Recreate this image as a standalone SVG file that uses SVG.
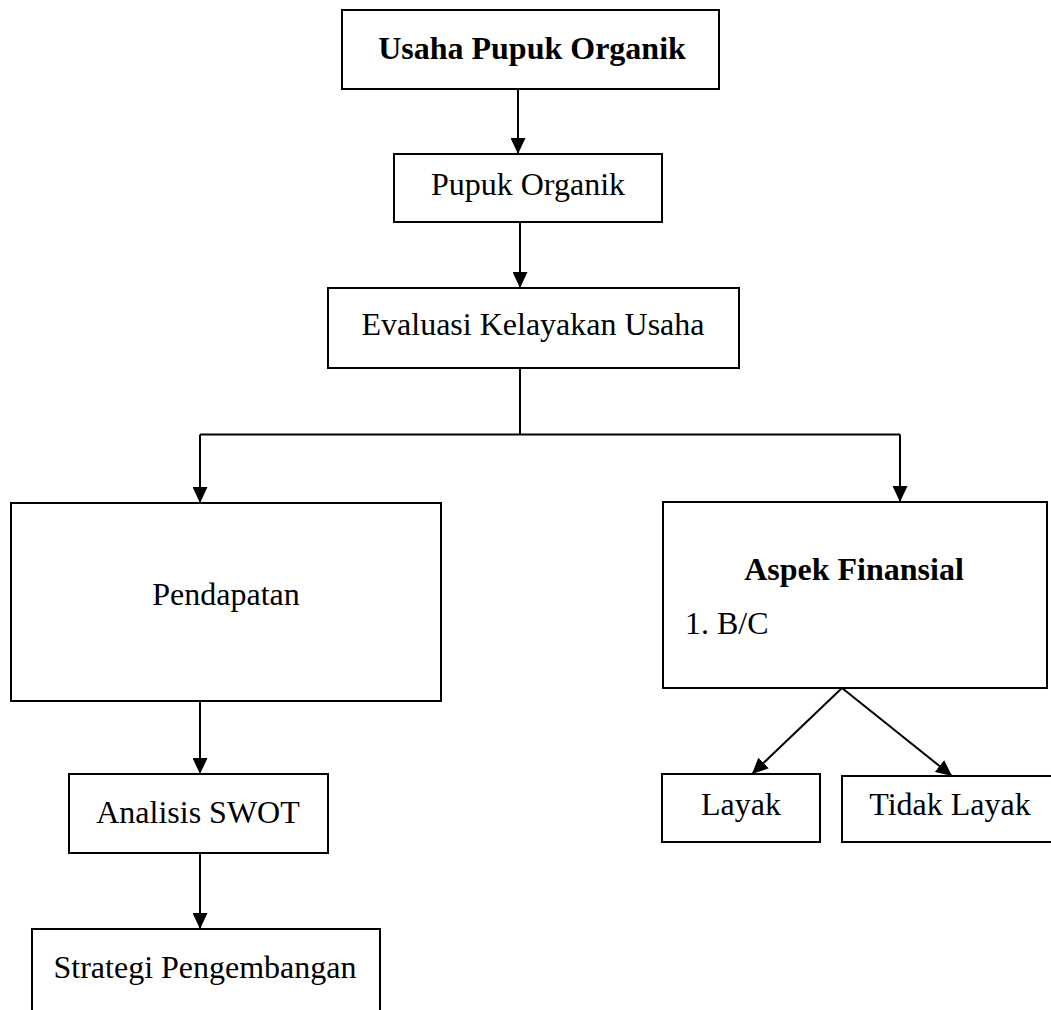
<svg xmlns="http://www.w3.org/2000/svg" width="1051" height="1010" viewBox="0 0 1051 1010">
<style>
.box{fill:#fff;stroke:#000;stroke-width:2}
.t{font-family:"Liberation Serif","Times New Roman",serif;font-size:32px;fill:#000}
.b{font-weight:bold}
.c{stroke:#000;stroke-width:2;fill:none}
</style>
<defs>
<marker id="ah" markerUnits="userSpaceOnUse" markerWidth="16" markerHeight="15" refX="16" refY="7.5" orient="auto" viewBox="0 0 16 15">
<path d="M0,0 L16,7.5 L0,15 z" fill="#000"/>
</marker>
</defs>
<rect width="1051" height="1010" fill="#fff"/>
<g id="connectors">
<line class="c" x1="518" y1="89" x2="518" y2="154" marker-end="url(#ah)"/>
<line class="c" x1="520" y1="222" x2="520" y2="288" marker-end="url(#ah)"/>
<polyline class="c" points="520,368 520,434.5"/>
<polyline class="c" points="200,434.5 900,434.5"/>
<line class="c" x1="200" y1="434.5" x2="200" y2="503" marker-end="url(#ah)"/>
<line class="c" x1="900" y1="434.5" x2="900" y2="502" marker-end="url(#ah)"/>
<line class="c" x1="200" y1="701" x2="200" y2="774" marker-end="url(#ah)"/>
<line class="c" x1="200" y1="853" x2="200" y2="929" marker-end="url(#ah)"/>
<line class="c" x1="842" y1="688" x2="752" y2="774" marker-end="url(#ah)"/>
<line class="c" x1="842" y1="688" x2="952" y2="776" marker-end="url(#ah)"/>
</g>
<g id="n-usaha">
<rect class="box" x="342" y="10" width="377" height="79"/>
<text class="t b" x="532" y="59" text-anchor="middle">Usaha Pupuk Organik</text>
</g>
<g id="n-pupuk">
<rect class="box" x="394" y="154" width="268" height="68"/>
<text class="t" x="528" y="195" text-anchor="middle">Pupuk Organik</text>
</g>
<g id="n-evaluasi">
<rect class="box" x="328" y="288" width="411" height="80"/>
<text class="t" x="533" y="335" text-anchor="middle">Evaluasi Kelayakan Usaha</text>
</g>
<g id="n-pendapatan">
<rect class="box" x="11" y="503" width="430" height="198"/>
<text class="t" x="226" y="605" text-anchor="middle">Pendapatan</text>
</g>
<g id="n-aspek">
<rect class="box" x="663" y="502" width="384" height="186"/>
<text class="t b" x="854" y="580" text-anchor="middle">Aspek Finansial</text>
<text class="t" x="685" y="634">1. B/C</text>
</g>
<g id="n-layak">
<rect class="box" x="662" y="774" width="158" height="68"/>
<text class="t" x="741" y="815" text-anchor="middle">Layak</text>
</g>
<g id="n-tidak">
<rect class="box" x="842" y="776" width="212" height="66"/>
<text class="t" x="950" y="815" text-anchor="middle">Tidak Layak</text>
</g>
<g id="n-swot">
<rect class="box" x="69" y="774" width="259" height="79"/>
<text class="t" x="198" y="823" text-anchor="middle">Analisis SWOT</text>
</g>
<g id="n-strategi">
<rect class="box" x="32" y="929" width="348" height="100"/>
<text class="t" x="205" y="978" text-anchor="middle">Strategi Pengembangan</text>
</g>
</svg>
